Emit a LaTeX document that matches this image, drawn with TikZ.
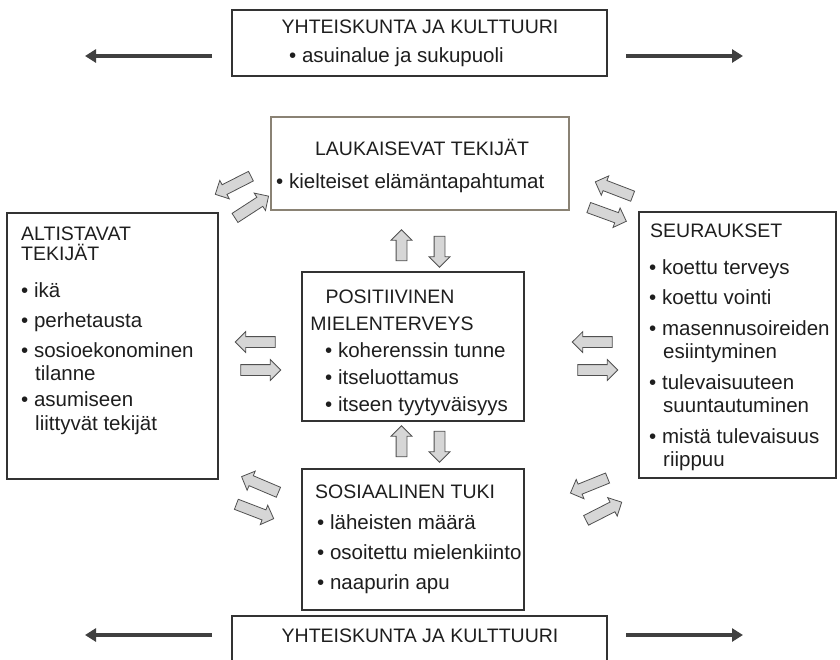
\documentclass[tikz,border=0pt]{standalone}
\usepackage{fontspec}
\setmainfont{Liberation Sans}
\usetikzlibrary{shapes.arrows,arrows.meta}
\definecolor{boxc}{HTML}{333333}
\definecolor{laukc}{HTML}{8A8274}
\definecolor{txtc}{HTML}{1E1E1E}
\definecolor{arrc}{HTML}{505050}
\definecolor{arrfill}{HTML}{D6D6D6}
\definecolor{darkc}{HTML}{404040}
\begin{document}
\begin{tikzpicture}[x=1pt,y=-1pt,
  box/.style={draw=boxc, line width=1.3pt, rectangle, inner sep=0pt},
  txt/.style={anchor=base west, inner sep=0pt, font=\fontsize{20.5}{25}\selectfont, text=txtc},
  ctxt/.style={anchor=base, inner sep=0pt, font=\fontsize{19.5}{24}\selectfont, text=txtc},
  ttl/.style={txt, font=\fontsize{19.5}{24}\selectfont},
  barrow/.style={single arrow, draw=arrc, fill=arrfill, line width=0.8pt,
    minimum height=40pt, minimum width=20pt, inner sep=5pt,
    single arrow head extend=5pt},
  vbarrow/.style={barrow, minimum height=31pt},
  bigarrow/.style={line width=4pt, draw=darkc, -{Triangle[length=11pt,width=13pt]}}
]
\path[use as bounding box] (0,0) rectangle (840,659);
\clip (0,0) rectangle (840,659);

% boxes
\node[box, minimum width=375pt, minimum height=66pt] (top) at (419.5,43) {};
\node[box, draw=laukc, minimum width=298pt, minimum height=93pt] (lauk) at (420,163.5) {};
\node[box, minimum width=211pt, minimum height=266pt] (alt) at (112.5,346) {};
\node[box, minimum width=222pt, minimum height=149pt] (pos) at (413,346.5) {};
\node[box, minimum width=222pt, minimum height=141pt] (sos) at (413,539.5) {};
\node[box, minimum width=197pt, minimum height=266pt] (seur) at (737.5,345) {};
\node[box, minimum width=375pt, minimum height=64pt] (bot) at (419.5,648) {};

% top box text
\node[ctxt] (t1) at (420,33) {YHTEISKUNTA JA KULTTUURI};
\node[txt] (t2) at (289,62) {• asuinalue ja sukupuoli};

% laukaisevat
\node[ctxt] (l1) at (422,155) {LAUKAISEVAT TEKIJÄT};
\node[txt] (l2) at (276,188) {• kielteiset elämäntapahtumat};

% altistavat
\node[ttl] (a1) at (21,240) {ALTISTAVAT};
\node[ttl] (a2) at (21,260) {TEKIJÄT};
\node[txt] (a3) at (21,297) {• ikä};
\node[txt] (a4) at (21,327) {• perhetausta};
\node[txt] (a5) at (21,357) {• sosioekonominen};
\node[txt] (a6) at (35,380) {tilanne};
\node[txt] (a7) at (21,406) {• asumiseen};
\node[txt] (a8) at (35,430) {liittyvät tekijät};

% positiivinen
\node[ctxt] (p1) at (390,303) {POSITIIVINEN};
\node[ctxt] (p2) at (392,330) {MIELENTERVEYS};
\node[txt] (p3) at (325,357) {• koherenssin tunne};
\node[txt] (p4) at (325,384) {• itseluottamus};
\node[txt] (p5) at (325,411) {• itseen tyytyväisyys};

% sosiaalinen
\node[ttl] (s1) at (315,498) {SOSIAALINEN TUKI};
\node[txt] (s2) at (317,529) {• läheisten määrä};
\node[txt] (s3) at (317,559) {• osoitettu mielenkiinto};
\node[txt] (s4) at (317,589) {• naapurin apu};

% seuraukset
\node[ttl] (r1) at (650,237) {SEURAUKSET};
\node[txt] (r2) at (649,274) {• koettu terveys};
\node[txt] (r3) at (649,304) {• koettu vointi};
\node[txt] (r4) at (649,335) {• masennusoireiden};
\node[txt] (r5) at (663,358) {esiintyminen};
\node[txt] (r6) at (649,389) {• tulevaisuuteen};
\node[txt] (r7) at (663,412) {suuntautuminen};
\node[txt] (r8) at (649,443) {• mistä tulevaisuus};
\node[txt] (r9) at (663,466) {riippuu};

% bottom box text
\node[ctxt] (b1) at (420,642) {YHTEISKUNTA JA KULTTUURI};

% big dark arrows
\coordinate (tl0) at (212,56); \coordinate (tl1) at (85,56);
\coordinate (tr0) at (626,56); \coordinate (tr1) at (743,56);
\coordinate (bl0) at (212,635); \coordinate (bl1) at (85,635);
\coordinate (br0) at (626,635); \coordinate (br1) at (743,635);
\draw[bigarrow] (tl0) -- (tl1);
\draw[bigarrow] (tr0) -- (tr1);
\draw[bigarrow] (bl0) -- (bl1);
\draw[bigarrow] (br0) -- (br1);

% block arrows: vertical
\node[vbarrow, rotate=90] (v1) at (401.5,248) {};
\node[vbarrow, rotate=-90] (v2) at (439.5,249) {};
\node[vbarrow, rotate=90] (v3) at (401.5,444) {};
\node[vbarrow, rotate=-90] (v4) at (439.5,444) {};

% horizontal
\node[barrow, rotate=180] (h1) at (258,342) {};
\node[barrow] (h2) at (258,370) {};
\node[barrow, rotate=180] (h3) at (595,342) {};
\node[barrow] (h4) at (595,370) {};

% diagonal
\node[barrow, rotate=207] (d1) at (235.5,184) {};
\node[barrow, rotate=33] (d2) at (249.5,208.5) {};
\node[barrow, rotate=159] (d3) at (616.5,190) {};
\node[barrow, rotate=-20] (d4) at (605,213.5) {};
\node[barrow, rotate=157] (d5) at (262.5,485.5) {};
\node[barrow, rotate=-21] (d6) at (252.5,510.5) {};
\node[barrow, rotate=202] (d7) at (591.5,484.5) {};
\node[barrow, rotate=27] (d8) at (601.5,512.5) {};
\end{tikzpicture}
\end{document}
